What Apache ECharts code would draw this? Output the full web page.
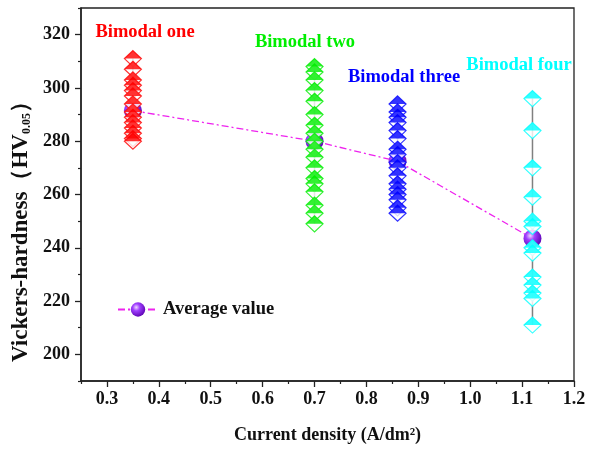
<!DOCTYPE html>
<html>
<head>
<meta charset="utf-8">
<script src="https://cdn.jsdelivr.net/npm/echarts@6/dist/echarts.min.js"></script>
<style>html,body{margin:0;padding:0;background:#fff}#c{width:589px;height:451px}</style>
</head>
<body>
<div id="c"></div>
<script>
// ---- data ----
var groupNames = ['Bimodal one', 'Bimodal two', 'Bimodal three', 'Bimodal four'];
var currentDensity = [0.35, 0.70, 0.86, 1.12];
var bimodalOne = [311, 307, 303, 301, 299, 297, 294, 291, 289, 287, 285, 283, 281, 280];
var bimodalTwo = [308, 306, 303, 299, 295, 290, 286, 283, 280, 277, 274, 270, 266, 264, 261, 256, 253, 249];
var bimodalThree = [294, 291, 289, 287, 284, 281, 277, 275, 272, 270, 267, 264, 262, 260, 258, 255, 253];
var bimodalFour = [296, 284, 270, 259, 250, 248, 240, 238, 229, 226, 223, 221, 211];
var averageValue = [291.5, 280, 272.5, 243.5];
var yMajorTicks = [200, 220, 240, 260, 280, 300, 320];
var yMinorTicks = [190, 210, 230, 250, 270, 290, 310, 330];
var xMajorTicks = [0.3, 0.4, 0.5, 0.6, 0.7, 0.8, 0.9, 1.0, 1.1, 1.2];
var xMinorTicks = [0.25, 0.35, 0.45, 0.55, 0.65, 0.75, 0.85, 0.95, 1.05, 1.15];

// ---- styles ----
var groups = [bimodalOne, bimodalTwo, bimodalThree, bimodalFour];
var colors = ['#ff0000', '#00ee00', '#0000ff', '#00ffff'];
var FONT = '"Times New Roman","Liberation Serif",serif';
var W = 17, H = 16;

var chart = echarts.init(document.getElementById('c'), null, {renderer: 'canvas'});
var series = [];

// average line
series.push({
  name: 'Average value', type: 'line', z: 1,
  data: currentDensity.map(function (x, i) { return [x, averageValue[i]]; }),
  symbol: 'circle', symbolSize: 18,
  lineStyle: {color: '#ee22ee', width: 1.3, type: [7, 3, 2, 3]},
  itemStyle: {color: {type: 'radial', x: 0.38, y: 0.35, r: 0.7,
    colorStops: [{offset: 0, color: '#f0d8ff'}, {offset: 0.35, color: '#a040ff'}, {offset: 1, color: '#5a00b0'}]}},
  animation: false
});

groups.forEach(function (vals, g) {
  var x = currentDensity[g];
  var mx = Math.max.apply(null, vals), mn = Math.min.apply(null, vals);
  series.push({
    type: 'line', z: 0, silent: true, symbol: 'none',
    data: [[x, mx], [x, mn]],
    lineStyle: {color: '#808080', width: 1.5}, animation: false
  });
  series.push({
    type: 'scatter', z: 3, symbol: 'diamond', symbolSize: [W, H],
    data: vals.map(function (v) { return [x, v]; }),
    itemStyle: {color: '#ffffff', borderColor: colors[g], borderWidth: 1.2},
    animation: false
  });
  series.push({
    type: 'scatter', z: 4, symbol: 'triangle', symbolSize: [W, H / 2], symbolOffset: [0, -H / 4],
    data: vals.map(function (v) { return [x, v]; }),
    itemStyle: {color: colors[g]},
    animation: false
  });
});

var labelPos = [[145, 32], [305, 42], [404, 77], [519, 65]];

chart.setOption({
  animation: false,
  backgroundColor: '#fff',
  grid: {left: 81, right: 15, top: 8, bottom: 70, show: true, borderColor: '#222', borderWidth: 1.3},
  legend: {
    data: ['Average value'], left: 112, top: 295, itemWidth: 40, itemHeight: 18,
    textStyle: {fontFamily: FONT, fontWeight: 'bold', fontSize: 18.5, color: '#111'}
  },
  xAxis: [{
    type: 'value', min: 0.25, max: 1.2, position: 'bottom',
    axisLine: {show: true, lineStyle: {color: '#222', width: 1.5}},
    axisTick: {show: true, length: 6, customValues: xMajorTicks, lineStyle: {color: '#222', width: 1.3}},
    axisLabel: {customValues: xMajorTicks, margin: 9, color: '#111', fontFamily: FONT, fontWeight: 'bold', fontSize: 18,
      formatter: function (v) { return v.toFixed(1); }},
    splitLine: {show: false},
    name: 'Current density (A/dm²)', nameLocation: 'middle', nameGap: 45,
    nameTextStyle: {fontFamily: FONT, fontWeight: 'bold', fontSize: 18, color: '#111'}
  }, {
    type: 'value', min: 0.25, max: 1.2, position: 'bottom',
    axisLine: {show: false},
    axisTick: {show: true, length: 3, customValues: xMinorTicks, lineStyle: {color: '#222', width: 1.2}},
    axisLabel: {show: false}, splitLine: {show: false}
  }],
  yAxis: [{
    type: 'value', min: 190, max: 330, position: 'left',
    axisLine: {show: true, lineStyle: {color: '#222', width: 1.5}},
    axisTick: {show: true, length: 6, customValues: yMajorTicks, lineStyle: {color: '#222', width: 1.3}},
    axisLabel: {customValues: yMajorTicks, margin: 11, color: '#111', fontFamily: FONT, fontWeight: 'bold', fontSize: 18},
    splitLine: {show: false}
  }, {
    type: 'value', min: 190, max: 330, position: 'left',
    axisLine: {show: false},
    axisTick: {show: true, length: 3, customValues: yMinorTicks, lineStyle: {color: '#222', width: 1.2}},
    axisLabel: {show: false}, splitLine: {show: false}
  }],
  graphic: groupNames.map(function (n, i) {
    return {type: 'text', x: labelPos[i][0], y: labelPos[i][1], z: 10,
      style: {text: n, fill: colors[i], font: 'bold 18.5px ' + FONT, align: 'center', verticalAlign: 'middle'}};
  }).concat([{
    type: 'text', x: 21, y: 226, rotation: Math.PI / 2, z: 10,
    style: {
      text: '{a|Vickers-hardness（HV}{b|0.05}{a|）}',
      align: 'center', verticalAlign: 'middle', fill: '#111',
      rich: {
        a: {fontFamily: FONT, fontWeight: 'bold', fontSize: 23, fill: '#111'},
        b: {fontFamily: FONT, fontWeight: 'bold', fontSize: 12, fill: '#111', padding: [11, 0, 0, 0]}
      }
    }
  }]),
  series: series
});
</script>
</body>
</html>
